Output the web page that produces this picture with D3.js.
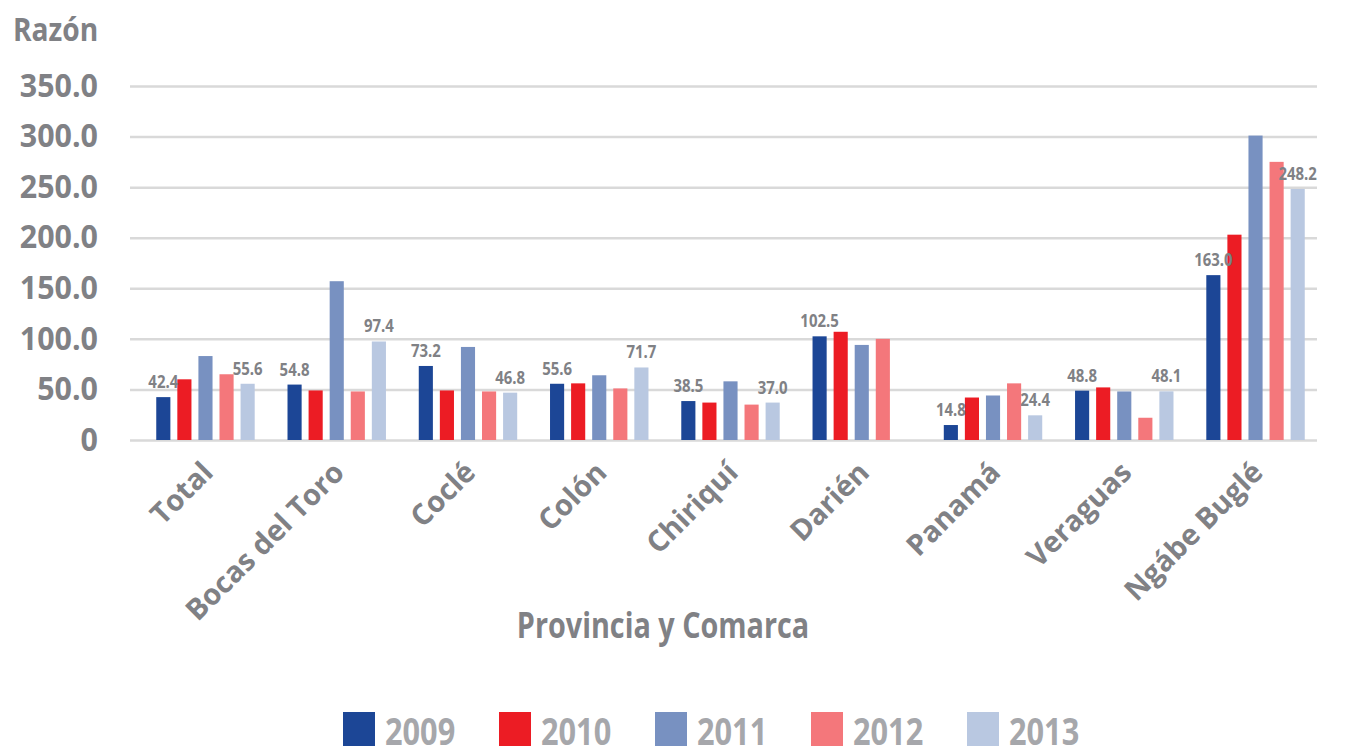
<!DOCTYPE html>
<html>
<head>
<meta charset="utf-8">
<script src="https://cdn.jsdelivr.net/npm/d3@7"></script>
<style>
  body { margin: 0; background: #fff; }
  text { font-family: "Open Sans", "Noto Sans", sans-serif; font-weight: bold; }
</style>
</head>
<body>
<div id="chart"></div>
<script>
// datos
const categories = ["Total", "Bocas del Toro", "Coclé", "Colón", "Chiriquí", "Darién", "Panamá", "Veraguas", "Ngábe Buglé"];
const years = ["2009", "2010", "2011", "2012", "2013"];
const v2009 = [42.4, 54.8, 73.2, 55.6, 38.5, 102.5, 14.8, 48.8, 163.0];
const v2010 = [60.0, 49.0, 49.0, 56.0, 37.0, 107.0, 42.0, 52.0, 203.0];
const v2011 = [83.0, 157.0, 92.0, 64.0, 58.0, 94.0, 44.0, 48.0, 301.0];
const v2012 = [65.0, 48.0, 48.0, 51.0, 35.0, 100.0, 56.0, 22.0, 275.0];
const v2013 = [55.6, 97.4, 46.8, 71.7, 37.0, null, 24.4, 48.1, 248.2];
const yTicks = [0, 50, 100, 150, 200, 250, 300, 350];
const labeledYears = ["2009", "2013"];
const colors = ["#1c4696", "#ec1c24", "#7891c1", "#f4777b", "#b9c8e1"];

const series = [v2009, v2010, v2011, v2012, v2013];
const rows = categories.map((c, i) => ({
  cat: c,
  vals: years.map((yr, j) => ({ year: yr, value: series[j][i] }))
}));

const width = 1348, height = 746;
const svg = d3.select('#chart').append('svg')
  .attr('width', width)
  .attr('height', height);

// estrechar el texto horizontalmente (fuente condensada)
function squeeze(sel, sx) {
  sel.each(function() {
    const t = d3.select(this);
    const x = +t.attr('x') || 0, yy = +t.attr('y') || 0;
    t.attr('x', 0).attr('y', 0)
      .attr('transform', `translate(${x},${yy}) scale(${sx},1)`);
  });
}

const gridLeft = 130, gridRight = 1317;

const y = d3.scaleLinear().domain([0, 350]).range([440, 86]);
const x0 = d3.scaleBand().domain(categories).range([130, 1331]).paddingInner(0.25).paddingOuter(0.2);
const x1 = d3.scaleBand().domain(years).range([0, x0.bandwidth()]).paddingInner(0.33);
const color = d3.scaleOrdinal().domain(years).range(colors);

// eje y con lineas de cuadricula
const yAxis = svg.append('g')
  .attr('transform', `translate(${gridLeft},0)`)
  .call(d3.axisLeft(y)
    .tickValues(yTicks)
    .tickSize(-(gridRight - gridLeft))
    .tickPadding(32)
    .tickFormat(d => d === 0 ? '0' : d3.format('.1f')(d)));
yAxis.select('.domain').remove();
yAxis.selectAll('.tick line').attr('stroke', '#d9d9d9').attr('stroke-width', 2.5);
yAxis.selectAll('.tick text')
  .attr('fill', '#808185')
  .style('font-size', '32px')
  .call(squeeze, 0.95);

// barras
const groups = svg.append('g').selectAll('g')
  .data(rows)
  .join('g')
  .attr('transform', d => `translate(${x0(d.cat)},0)`);

groups.selectAll('rect')
  .data(d => d.vals.filter(v => v.value != null))
  .join('rect')
  .attr('x', d => x1(d.year))
  .attr('width', x1.bandwidth())
  .attr('y', d => y(d.value))
  .attr('height', d => y(0) - y(d.value))
  .attr('fill', d => color(d.year));

// etiquetas de datos (solo 2009 y 2013)
groups.selectAll('text.lbl')
  .data(d => d.vals.filter(v => v.value != null && labeledYears.includes(v.year)))
  .join('text')
  .attr('class', 'lbl')
  .attr('x', d => x1(d.year) + x1.bandwidth() / 2)
  .attr('y', d => y(d.value) - 9)
  .attr('text-anchor', 'middle')
  .attr('fill', '#808185')
  .style('font-size', '17px')
  .text(d => d3.format('.1f')(d.value))
  .call(squeeze, 0.88);

// eje x
const xAxis = svg.append('g')
  .attr('transform', `translate(0,${y(0)})`)
  .call(d3.axisBottom(x0).tickSize(0));
xAxis.select('.domain').remove();
xAxis.selectAll('.tick text')
  .attr('x', 0)
  .attr('y', 0)
  .attr('dy', '0.35em')
  .attr('text-anchor', 'end')
  .attr('transform', 'translate(2,27) rotate(-45)')
  .attr('fill', '#808185')
  .style('font-size', '29px');

// titulos
svg.append('text')
  .attr('x', 13)
  .attr('y', 41)
  .attr('fill', '#808185')
  .style('font-size', '32px')
  .text('Razón')
  .call(squeeze, 0.88);

svg.append('text')
  .attr('x', 663)
  .attr('y', 638)
  .attr('text-anchor', 'middle')
  .attr('fill', '#808185')
  .style('font-size', '36px')
  .text('Provincia y Comarca')
  .call(squeeze, 0.8);

// leyenda
const legend = svg.append('g').selectAll('g')
  .data(years)
  .join('g')
  .attr('transform', (d, i) => `translate(${343 + i * 156},712)`);
legend.append('rect')
  .attr('width', 32)
  .attr('height', 36)
  .attr('fill', d => color(d));
legend.append('text')
  .attr('x', 42)
  .attr('y', 33)
  .attr('fill', '#a6a7ab')
  .style('font-size', '37px')
  .text(d => d)
  .call(squeeze, 0.83);
</script>
</body>
</html>
